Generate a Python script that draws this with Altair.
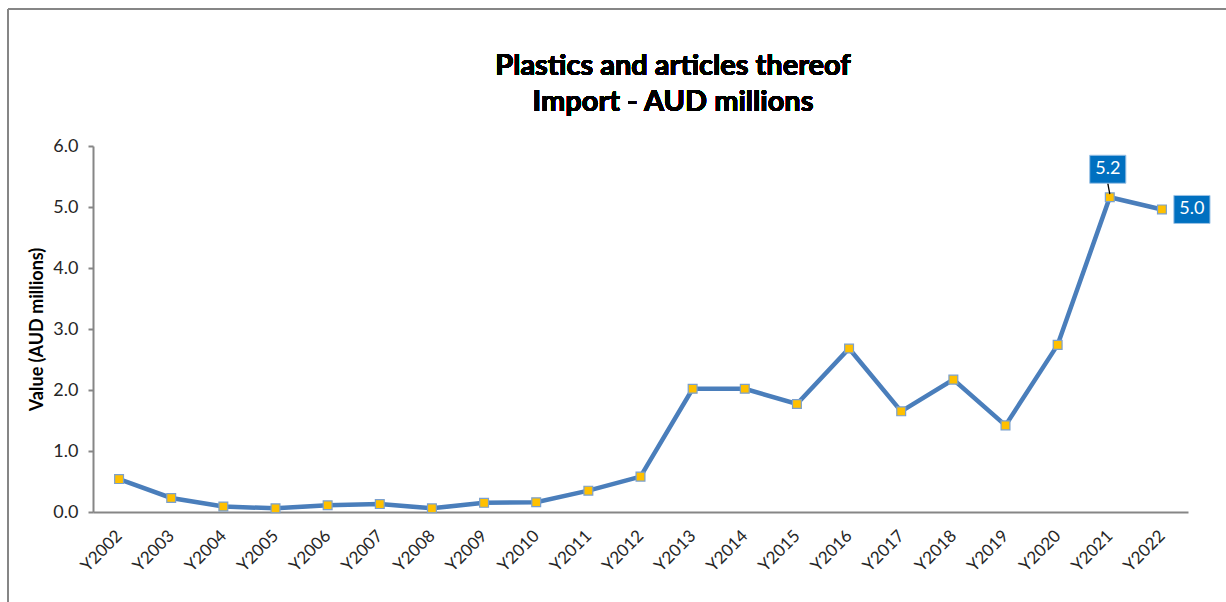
import altair as alt
import pandas as pd

# Import values, AUD millions
years = ["Y2002", "Y2003", "Y2004", "Y2005", "Y2006", "Y2007", "Y2008",
         "Y2009", "Y2010", "Y2011", "Y2012", "Y2013", "Y2014", "Y2015",
         "Y2016", "Y2017", "Y2018", "Y2019", "Y2020", "Y2021", "Y2022"]
values = [0.54, 0.23, 0.09, 0.06, 0.11, 0.13, 0.06,
          0.15, 0.16, 0.35, 0.58, 2.02, 2.02, 1.77,
          2.68, 1.65, 2.17, 1.42, 2.74, 5.16, 4.96]

# Points carrying a value callout
callout_years = ["Y2021", "Y2022"]
callout_text = ["5.2", "5.0"]

title_lines = ["Plastics and articles thereof", "Import - AUD millions"]

df = pd.DataFrame({"year": years, "value": values})
vals = dict(zip(years, values))
lab = pd.DataFrame({"year": callout_years, "label": callout_text,
                    "value": [vals[y] for y in callout_years]})

FONT = "Lato"
W, H = 1095, 366
AXIS_GREY = "#868686"
TEXT_GREY = "#262626"

x = alt.X("year:N", sort=years, title=None,
          scale=alt.Scale(type="point", padding=0.5),
          axis=alt.Axis(labelAngle=-45, labelAlign="right", labelBaseline="middle",
                        labelPadding=21, ticks=False, labelFontSize=17,
                        labelColor=TEXT_GREY, labelFont=FONT,
                        domainColor=AXIS_GREY, domainWidth=2))
y = alt.Y("value:Q", title="Value (AUD millions)",
          scale=alt.Scale(domain=[0, 6], nice=False),
          axis=alt.Axis(values=[0, 1, 2, 3, 4, 5, 6], format=".1f", grid=False,
                        tickSize=5, tickColor=AXIS_GREY, tickWidth=2,
                        domainColor=AXIS_GREY, domainWidth=2,
                        labelFontSize=18, labelColor=TEXT_GREY, labelFont=FONT,
                        labelPadding=10, titleFont=FONT, titleFontSize=18,
                        titleFontWeight="bold", titleColor="#000000",
                        titlePadding=6))

base = alt.Chart(df).encode(x=x, y=y)

line = base.mark_line(color="#4A7EBB", strokeWidth=4.5)
markers = base.mark_point(shape="square", filled=True, size=78, opacity=1,
                          fill="#FFC000", stroke="#7BA0CD", strokeWidth=1.2)

BOX = "M-1.29,-1L1.29,-1L1.29,1L-1.29,1Z"

# Callout above the 2021 point, joined to it by a short leader
lab21 = alt.Chart(lab[lab.year == "Y2021"]).encode(x=x, y=y)
leader = lab21.mark_rule(color="#000000", strokeWidth=1.3, yOffset=-3,
                         x2Offset=-2, y2Offset=-14).encode(x2="year:N", y2="value:Q")
box21 = lab21.mark_point(shape=BOX, size=784, filled=True, opacity=1, fill="#0070C0",
                         stroke="#9DC3E6", strokeWidth=1, xOffset=-2, yOffset=-28)
text21 = lab21.mark_text(color="white", font=FONT, fontSize=18,
                         dx=-2, dy=-28).encode(text="label:N")

# Callout to the right of the 2022 point
lab22 = alt.Chart(lab[lab.year == "Y2022"]).encode(x=x, y=y)
box22 = lab22.mark_point(shape=BOX, size=784, filled=True, opacity=1, fill="#0070C0",
                         stroke="#9DC3E6", strokeWidth=1, xOffset=30, yOffset=0)
text22 = lab22.mark_text(color="white", font=FONT, fontSize=18,
                         dx=30, dy=0).encode(text="label:N")

# Two-line chart heading
head = [
    alt.Chart(df).mark_text(text=t, font=FONT, fontSize=29, fontWeight="bold",
                            color="#000000", align="center", baseline="middle").encode(
        x=alt.value(580), y=alt.value(yy))
    for t, yy in zip(title_lines, [-80, -44])
]

# Outer chart frame (top and left edges)
frame_top = alt.Chart(df).mark_rule(color=AXIS_GREY, strokeWidth=2).encode(
    x=alt.value(-85), x2=alt.value(1133), y=alt.value(-137))
frame_left = alt.Chart(df).mark_rule(color=AXIS_GREY, strokeWidth=2).encode(
    x=alt.value(-85), y=alt.value(-137), y2=alt.value(456))

chart = alt.layer(frame_top, frame_left, *head, line, markers, leader, box21, text21,
                  box22, text22).properties(
    width=W, height=H,
    autosize=alt.AutoSizeParams(type="none"),
    padding={"left": 93, "top": 146, "right": 38, "bottom": 90},
    background="white",
).configure_view(stroke=None)

chart.save("out.html", embed_options={"renderer": "svg", "actions": False})
